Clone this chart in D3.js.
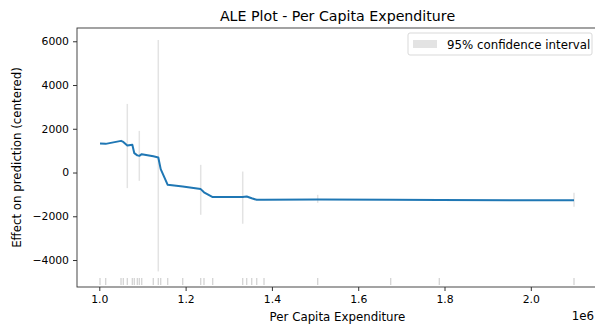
<!DOCTYPE html>
<html>
<head>
<meta charset="utf-8">
<script src="https://cdn.jsdelivr.net/npm/d3@7"></script>
<style>
  body { margin: 0; background: #fff; }
  text { font-family: "DejaVu Sans", sans-serif; fill: #000; }
</style>
</head>
<body>
<div id="chart"></div>
<script>
// ALE curve: bin edges (x, in units of 1e6) and centered effect
var edges = [1.0016, 1.0148, 1.0503, 1.0556, 1.0649, 1.0765, 1.0811, 1.0881, 1.0927, 1.0983,
             1.1251, 1.1367, 1.1423, 1.1585, 1.1933, 1.2350, 1.2426, 1.2628, 1.3323, 1.3416,
             1.3532, 1.3648, 1.3817, 1.5061, 1.6753, 1.7879, 2.1001];
var effect = [1324, 1310, 1447, 1400, 1233, 1265, 886, 785, 763, 840,
              740, 685, 155, -562, -639, -758, -904, -1123, -1123, -1096,
              -1178, -1247, -1247, -1237, -1247, -1256, -1269];

// 95% confidence interval (only the visible ones)
var ciX    = [1.0649, 1.0927, 1.1367, 1.2350, 1.3323, 1.5061, 2.1001];
var ciLow  = [-712, -379, -4521, -1932, -2342, -1384, -1566];
var ciHigh = [3137, 1904, 6059, 352, 46, -1018, -927];

var xTicks = [1.0, 1.2, 1.4, 1.6, 1.8, 2.0];
var yTicks = [-4000, -2000, 0, 2000, 4000, 6000];

var width = 595, height = 324;
var margin = {top: 28, right: -3, bottom: 37, left: 77};
var w = width - margin.left - margin.right,
    h = height - margin.top - margin.bottom;

var svg = d3.select("#chart").append("svg")
    .attr("width", width)
    .attr("height", height);

var g = svg.append("g")
    .attr("transform", "translate(" + margin.left + "," + margin.top + ")");

var x = d3.scaleLinear().domain([0.9483, 2.1557]).range([0, w]);
var y = d3.scaleLinear().domain([-5233, 6607]).range([h, 0]);

// confidence interval bars
g.append("g").selectAll("line")
  .data(ciX)
  .enter().append("line")
    .attr("x1", function(d) { return x(d); })
    .attr("x2", function(d) { return x(d); })
    .attr("y1", function(d, i) { return y(ciLow[i]); })
    .attr("y2", function(d, i) { return y(ciHigh[i]); })
    .attr("stroke", "#e3e3e3")
    .attr("stroke-width", 1.5);

// rug
g.append("g").selectAll("line")
  .data(edges)
  .enter().append("line")
    .attr("x1", function(d) { return x(d); })
    .attr("x2", function(d) { return x(d); })
    .attr("y1", h - 9)
    .attr("y2", h - 2)
    .attr("stroke", "#d4d4d4")
    .attr("stroke-width", 1.3);

// ALE line
var line = d3.line()
  .x(function(d) { return x(d); })
  .y(function(d, i) { return y(effect[i]); });

g.append("path")
  .datum(edges)
  .attr("fill", "none")
  .attr("stroke", "#1f77b4")
  .attr("stroke-width", 2)
  .attr("stroke-linejoin", "round")
  .attr("d", line);

// axes
var xAxis = g.append("g")
  .attr("transform", "translate(0," + h + ")")
  .call(d3.axisBottom(x).tickValues(xTicks).tickFormat(d3.format(".1f")).tickSize(4).tickPadding(4));
var yAxis = g.append("g")
  .call(d3.axisLeft(y).tickValues(yTicks).tickFormat(function(d) { return d < 0 ? "\u2212" + Math.abs(d) : d; }).tickSize(4).tickPadding(4));

[xAxis, yAxis].forEach(function(a) {
  a.selectAll("text").style("font-size", "10.8px").style("font-family", "DejaVu Sans").attr("fill", "#000");
  a.selectAll(".tick line").attr("stroke", "#333");
  a.select(".domain").remove();
});

// spines
g.append("rect")
  .attr("x", 0).attr("y", 0)
  .attr("width", w).attr("height", h)
  .attr("fill", "none")
  .attr("stroke", "#333")
  .attr("stroke-width", 0.9);

// title and labels
svg.append("text")
  .attr("x", margin.left + w / 2)
  .attr("y", 21)
  .attr("text-anchor", "middle")
  .style("font-size", "14.2px")
  .text("ALE Plot - Per Capita Expenditure");

svg.append("text")
  .attr("x", margin.left + w / 2)
  .attr("y", 321)
  .attr("text-anchor", "middle")
  .style("font-size", "11.8px")
  .text("Per Capita Expenditure");

svg.append("text")
  .attr("x", 594)
  .attr("y", 320)
  .attr("text-anchor", "end")
  .style("font-size", "11.8px")
  .text("1e6");

svg.append("text")
  .attr("transform", "translate(21," + (margin.top + h / 2) + ") rotate(-90)")
  .attr("text-anchor", "middle")
  .style("font-size", "11.8px")
  .text("Effect on prediction (centered)");

// legend
var lg = svg.append("g").attr("transform", "translate(408,33)");
lg.append("rect")
  .attr("width", 184).attr("height", 22)
  .attr("rx", 2)
  .attr("fill", "#fff")
  .attr("stroke", "#d9d9d9");
lg.append("rect")
  .attr("x", 5).attr("y", 7)
  .attr("width", 24).attr("height", 8)
  .attr("fill", "#e3e3e3");
lg.append("text")
  .attr("x", 39).attr("y", 15.5)
  .style("font-size", "11.8px")
  .text("95% confidence interval");
</script>
</body>
</html>
